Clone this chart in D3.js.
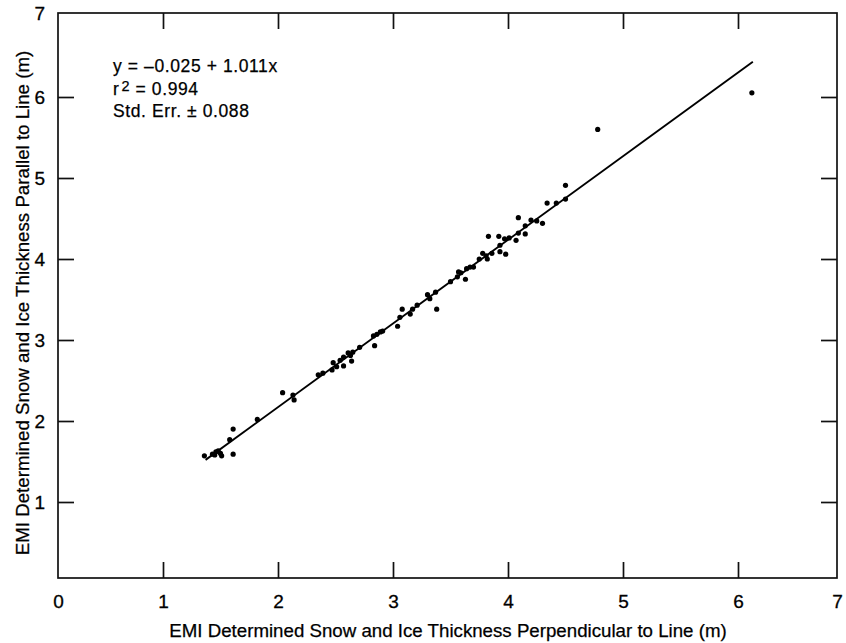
<!DOCTYPE html>
<html>
<head>
<meta charset="utf-8">
<script src="https://cdn.jsdelivr.net/npm/d3@7"></script>
<style>
  body { margin: 0; background: #fff; }
  svg { display: block; font-family: "Liberation Sans", Arial, Helvetica, sans-serif; }
</style>
</head>
<body>
<div id="container"></div>
<script>
// EMI thickness perpendicular (x) vs parallel (y), metres
const thickPerp = [1.36, 1.43, 1.46, 1.48, 1.50, 1.51, 1.45, 1.58, 1.61, 1.61, 1.82, 2.04, 2.13, 2.14,
    2.35, 2.39, 2.47, 2.48, 2.51, 2.54, 2.57, 2.57, 2.61, 2.63, 2.64, 2.65, 2.71, 2.83, 2.84, 2.86,
    2.89, 2.91, 3.04, 3.06, 3.08, 3.15, 3.17, 3.21, 3.30, 3.32, 3.37, 3.38, 3.50, 3.56, 3.57, 3.59,
    3.63, 3.64, 3.67, 3.70, 3.75, 3.78, 3.81, 3.82, 3.83, 3.86, 3.92, 3.93, 3.93, 3.98, 3.97, 4.01,
    4.07, 4.09, 4.15, 4.09, 4.15, 4.20, 4.25, 4.30, 4.34, 4.42, 4.50, 4.50, 4.78, 6.14];
const thickPar = [1.57, 1.59, 1.62, 1.63, 1.60, 1.57, 1.58, 1.77, 1.90, 1.59, 2.02, 2.35, 2.32, 2.26,
    2.57, 2.59, 2.63, 2.72, 2.67, 2.75, 2.79, 2.68, 2.84, 2.81, 2.74, 2.85, 2.91, 3.05, 2.93, 3.07,
    3.10, 3.11, 3.17, 3.28, 3.38, 3.32, 3.38, 3.43, 3.56, 3.51, 3.59, 3.38, 3.72, 3.78, 3.84, 3.83,
    3.75, 3.88, 3.90, 3.90, 4.00, 4.07, 4.04, 4.00, 4.28, 4.07, 4.28, 4.17, 4.09, 4.06, 4.25, 4.26,
    4.23, 4.32, 4.31, 4.51, 4.41, 4.48, 4.47, 4.44, 4.69, 4.69, 4.74, 4.91, 5.60, 6.05];

// regression line end points as drawn
const fitX = [1.37, 6.15];
const fitY = [1.52, 6.42];

const xTicks = [0, 1, 2, 3, 4, 5, 6, 7];
const yTicks = [1, 2, 3, 4, 5, 6, 7];
const innerTicks = [1, 2, 3, 4, 5, 6];

const xTitle = "EMI Determined Snow and Ice Thickness Perpendicular to Line (m)";
const yTitle = "EMI Determined Snow and Ice Thickness Parallel to Line (m)";

function renderChart() {
    const width = 846;
    const height = 643;
    const tick = 16;
    const ink = "#111";

    // the scanned figure is slightly uneven, so the scales carry the frame and the inner ticks
    const x = d3.scaleLinear().domain([0, 1, 6, 7]).range([58, 163, 738, 837]);
    const y = d3.scaleLinear().domain([0, 1, 6, 7]).range([578, 502, 97, 13]);

    const svg = d3.create("svg")
        .attr("width", width)
        .attr("height", height)
        .attr("viewBox", [0, 0, width, height]);

    // frame
    svg.append("rect")
        .attr("x", x(0))
        .attr("y", y(7))
        .attr("width", x(7) - x(0))
        .attr("height", y(0) - y(7))
        .attr("fill", "none")
        .attr("stroke", ink)
        .attr("stroke-width", 1.7);

    const styleText = g => g.selectAll(".tick text")
        .attr("font-size", 19)
        .attr("fill", "#000")
        .attr("stroke", "#000")
        .attr("stroke-width", 0.3)
        .attr("font-family", "Liberation Sans, Arial, sans-serif");

    // bottom axis: labels 0..7, tick marks inward
    svg.append("g")
        .attr("transform", `translate(0,${y(0)})`)
        .call(d3.axisBottom(x).tickValues(xTicks).tickSize(-tick).tickPadding(17).tickFormat(d3.format("d")))
        .call(g => g.select(".domain").remove())
        .call(g => g.selectAll(".tick").filter(d => d === 0 || d === 7).select("line").remove())
        .call(g => g.selectAll(".tick line").attr("stroke", ink).attr("stroke-width", 1.7))
        .call(styleText);

    // left axis
    svg.append("g")
        .attr("transform", `translate(${x(0)},0)`)
        .call(d3.axisLeft(y).tickValues(yTicks).tickSize(-tick).tickPadding(13).tickFormat(d3.format("d")))
        .call(g => g.select(".domain").remove())
        .call(g => g.selectAll(".tick").filter(d => d === 7).select("line").remove())
        .call(g => g.selectAll(".tick line").attr("stroke", ink).attr("stroke-width", 1.7))
        .call(styleText);

    // top and right: tick marks only
    svg.append("g")
        .attr("transform", `translate(0,${y(7)})`)
        .call(d3.axisTop(x).tickValues(innerTicks).tickSize(-tick).tickFormat(""))
        .call(g => g.select(".domain").remove())
        .call(g => g.selectAll(".tick line").attr("stroke", ink).attr("stroke-width", 1.7));

    svg.append("g")
        .attr("transform", `translate(${x(7)},0)`)
        .call(d3.axisRight(y).tickValues(innerTicks).tickSize(-tick).tickFormat(""))
        .call(g => g.select(".domain").remove())
        .call(g => g.selectAll(".tick line").attr("stroke", ink).attr("stroke-width", 1.7));

    // regression line
    const line = d3.line().x(d => x(d[0])).y(d => y(d[1]));
    svg.append("path")
        .attr("fill", "none")
        .attr("stroke", "#000")
        .attr("stroke-width", 1.9)
        .attr("d", line(d3.zip(fitX, fitY)));

    // points
    svg.append("g")
        .selectAll("circle")
        .data(d3.zip(thickPerp, thickPar))
        .join("circle")
        .attr("cx", d => x(d[0]))
        .attr("cy", d => y(d[1]))
        .attr("r", 2.6)
        .attr("fill", "#000");

    // equation block
    const note = svg.append("g")
        .attr("font-size", 17.5)
        .attr("letter-spacing", 0.6)
        .attr("fill", "#000")
        .attr("stroke", "#000")
        .attr("stroke-width", 0.25);
    note.append("text").attr("x", 113).attr("y", 72).text("y = \u20130.025 + 1.011x");
    const r2 = note.append("text").attr("x", 113).attr("y", 95);
    r2.append("tspan").text("r");
    r2.append("tspan").attr("font-size", 14.5).attr("dy", -4).attr("dx", 2).text("2");
    r2.append("tspan").attr("dy", 4).text(" = 0.994");
    note.append("text").attr("x", 113).attr("y", 117).text("Std. Err. \u00b1 0.088");

    // axis titles
    svg.append("text")
        .attr("x", 448)
        .attr("y", 637)
        .attr("text-anchor", "middle")
        .attr("font-size", 18.7)
        .attr("stroke", "#000")
        .attr("stroke-width", 0.25)
        .text(xTitle);

    svg.append("text")
        .attr("transform", `translate(29,303) rotate(-90)`)
        .attr("text-anchor", "middle")
        .attr("font-size", 18.7)
        .attr("stroke", "#000")
        .attr("stroke-width", 0.25)
        .text(yTitle);

    document.getElementById("container").append(svg.node());
}

renderChart();
</script>
</body>
</html>
